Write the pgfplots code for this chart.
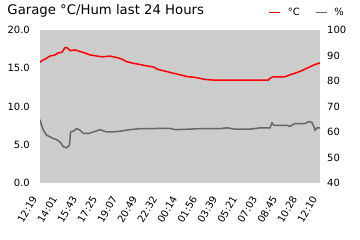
\documentclass[border=0pt]{standalone}
\usepackage{pgfplots}
\pgfplotsset{compat=1.18}
\usepackage{fontspec}
\setmainfont{DejaVu Sans}
\definecolor{bg}{HTML}{CCCCCC}
\definecolor{hum}{HTML}{666666}
\pgfplotstableread{
t v
0 15.8
0.1 16.0
0.25 16.2
0.5 16.6
0.75 16.75
0.9 17.0
1.1 17.1
1.25 17.7
1.35 17.7
1.4 17.6
1.5 17.3
1.75 17.4
2.0 17.2
2.25 17.0
2.5 16.75
2.85 16.6
3.15 16.5
3.5 16.6
3.85 16.4
4.1 16.2
4.3 15.9
4.65 15.66
5.0 15.5
5.35 15.3
5.65 15.2
5.9 14.85
6.3 14.6
6.6 14.4
7.0 14.15
7.35 13.93
7.8 13.8
8.25 13.55
8.75 13.45
9.5 13.45
10.5 13.45
11.4 13.45
11.5 13.7
11.65 13.9
12.25 13.9
12.5 14.15
12.75 14.36
13.0 14.6
13.25 14.9
13.5 15.2
13.75 15.5
14.0 15.7
}\temp
\pgfplotstableread{
t h
0 64.9
0.08 62.7
0.17 60.8
0.33 58.8
0.5 58.2
0.67 57.5
0.83 57.1
1.0 56.2
1.17 54.3
1.33 53.9
1.47 54.9
1.53 60.1
1.67 60.4
1.83 61.4
2.0 60.8
2.17 59.5
2.42 59.5
2.67 60.1
3.0 61.0
3.33 60.1
3.67 60.1
4.0 60.4
4.5 61.0
5.0 61.4
5.65 61.4
6.0 61.5
6.5 61.5
6.75 61.0
7.5 61.2
8.0 61.4
9.0 61.4
9.35 61.7
9.75 61.2
10.5 61.2
11.0 61.7
11.5 61.7
11.6 63.6
11.7 62.7
12.35 62.7
12.5 62.3
12.75 63.4
13.25 63.4
13.45 64.2
13.6 63.8
13.7 62.0
13.75 60.8
13.85 61.7
14.0 61.7
}\hum
\begin{document}
\begin{tikzpicture}
\useasboundingbox (-40bp,-56.7bp) rectangle (320bp,183.3bp);
\pgfplotsset{
  every axis/.append style={
    scale only axis, width=280bp, height=153.3bp,
    at={(0,0)}, anchor=south west,
    xmin=0, xmax=14,
    axis line style={draw=none},
    major tick length=0pt,
    /pgf/number format/assume math mode=true,
    ticklabel style={font=\fontsize{10}{12}\selectfont, inner sep=0pt},
  }
}
\begin{axis}[
  ymin=0, ymax=20,
  axis background/.style={fill=bg},
  axis y line*=left, axis x line*=bottom,
  xtick={0,...,14},
  xticklabels={12:19,14:01,15:43,17:25,19:07,20:49,22:32,00:14,01:56,03:39,05:21,07:03,08:45,10:28,12:10},
  xticklabel style={anchor=east, xshift=-5.5bp, yshift=-13.5bp, rotate=60},
  ytick={0,5,10,15,20},
  yticklabel style={xshift=-10bp, /pgf/number format/.cd, fixed, fixed zerofill, precision=1},
]
\addplot[red, line width=1.5bp] table[x=t, y=v] {\temp};
\end{axis}
\begin{axis}[
  ymin=40, ymax=100,
  axis y line*=right, axis x line=none,
  ytick={40,50,...,100},
  yticklabel style={xshift=7bp},
  legend style={at={(1.093,1.114)}, anchor=east, draw=none, fill=none, inner sep=0pt,
    legend columns=-1, font=\fontsize{10}{12}\selectfont,
    /tikz/every odd column/.append style={column sep=5bp},
    /tikz/every even column/.append style={column sep=13bp}},
  legend image code/.code={\draw[#1] (0bp,0bp) -- (11bp,0bp);},
]
\addlegendimage{red, line width=1.5bp}
\addlegendentry{°C}
\addplot[hum, line width=1.5bp] table[x=t, y=h] {\hum};
\addlegendentry{\%}
\end{axis}
\node[anchor=base west, inner sep=0pt, font=\fontsize{13.3}{16}\selectfont] at (-32.7bp,168.8bp) {Garage °C/Hum last 24 Hours};
\end{tikzpicture}
\end{document}
